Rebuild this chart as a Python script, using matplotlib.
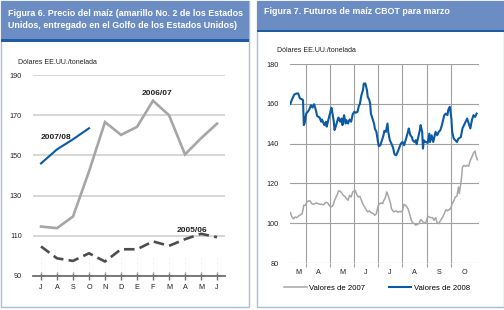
import matplotlib
matplotlib.use("Agg")
import matplotlib.pyplot as plt
from matplotlib.patches import Rectangle

# ---- Figura 6: precio del maiz (USD/t) ----
meses6 = ["J", "A", "S", "O", "N", "D", "E", "F", "M", "A", "M", "J"]
precio_0506 = [104.7, 98.8, 97.5, 101.3, 97.2, 103.3, 103.3, 107.2, 105.0, 108.3, 111.0, 109.3]
precio_0607 = [114.6, 113.8, 119.6, 142.0, 166.6, 160.2, 164.2, 177.2, 170.0, 150.5, 158.5, 165.8]
precio_0708 = [146.0, 153.0, 158.0, 163.5]

# ---- Figura 7: futuros CBOT marzo (dias desde 1 de marzo) ----
meses7 = ["M", "A", "M", "J", "J", "A", "S", "O"]
inicio_mes = [31, 61, 92, 122, 153, 184, 214]

dias_2008 = [11, 13, 16, 19, 21, 23, 26, 27, 28, 29, 31, 33, 35, 37, 39, 41, 43, 45, 48, 50,
             51, 54, 56, 57, 59, 61, 63, 64, 66, 67, 69, 71, 72, 74, 76, 77, 79, 81, 82, 84,
             86, 88, 90, 92, 94, 96, 98, 99, 101, 103, 104, 106, 108, 109, 111, 112, 113, 115, 117, 118,
             120, 122, 123, 125, 127, 129, 130, 132, 134, 135, 137, 139, 141, 143, 145, 147, 149, 151, 153, 155,
             157, 160, 161, 163, 165, 166, 168, 170, 171, 173, 175, 176, 178, 179, 180, 182, 183, 185, 187, 188,
             190, 192, 193, 195, 197, 199, 201, 203, 206, 208, 210, 211, 213, 215, 216, 218, 220, 222, 224, 227,
             229, 231, 233, 235, 237, 239, 241, 243, 245, 247]
valores_2008 = [160.0, 162.2, 164.7, 165.2, 165.2, 162.7, 162.2, 161.9, 149.3, 150.1, 155.1, 156.0, 157.2, 159.3, 158.1, 159.8, 157.2, 153.8, 153.1, 151.0,
                152.1, 149.3, 151.0, 148.5, 151.8, 154.8, 158.0, 156.0, 151.0, 146.8, 149.3, 152.1, 153.1, 151.0, 152.6, 149.3, 154.3, 150.1, 151.8, 150.1,
                152.1, 151.0, 154.8, 156.0, 155.5, 156.0, 159.3, 159.8, 164.4, 166.9, 170.2, 170.2, 166.9, 163.5, 161.9, 160.2, 155.1, 152.6, 150.1, 147.6,
                145.9, 140.8, 138.7, 139.2, 141.7, 144.2, 146.4, 145.9, 150.1, 145.9, 141.7, 140.0, 138.0, 134.6, 134.1, 135.8, 138.0, 140.0, 140.8, 139.2,
                141.7, 145.9, 147.6, 144.2, 143.3, 141.7, 140.8, 141.7, 139.7, 143.3, 146.7, 149.3, 145.9, 137.5, 141.7, 140.8, 140.8, 140.3, 145.0, 140.8,
                144.2, 140.8, 142.5, 145.9, 144.2, 145.9, 146.7, 149.3, 154.3, 155.1, 154.3, 156.9, 158.5, 152.6, 145.9, 142.5, 141.7, 140.8, 142.5, 143.3,
                147.6, 149.3, 151.0, 152.6, 150.1, 147.6, 151.8, 154.3, 153.4, 155.1]

dias_2007 = [11, 13, 15, 17, 19, 21, 23, 26, 28, 30, 32, 34, 36, 38, 40, 42, 44, 46, 49, 51,
             53, 55, 57, 59, 61, 63, 65, 67, 70, 72, 74, 76, 78, 80, 82, 84, 86, 88, 90, 93,
             95, 97, 99, 101, 103, 105, 107, 109, 111, 113, 116, 118, 120, 122, 124, 126, 128, 129, 131, 133,
             134, 136, 138, 139, 142, 145, 147, 149, 151, 153, 155, 157, 160, 162, 164, 166, 168, 170, 172, 174,
             176, 178, 180, 183, 185, 187, 189, 191, 193, 195, 197, 199, 201, 204, 206, 208, 210, 212, 214, 216,
             218, 220, 222, 224, 225, 227, 228, 229, 231, 233, 235, 237, 239, 241, 243, 245, 246, 248]
valores_2007 = [105.3, 103.1, 102.2, 103.1, 102.8, 103.5, 104.0, 104.8, 109.0, 109.0, 110.7, 111.2, 111.2, 109.8, 109.5, 109.8, 110.2, 109.8, 109.5, 109.5,
                109.2, 110.2, 110.5, 109.8, 108.5, 108.2, 109.0, 111.5, 114.0, 116.2, 116.2, 115.2, 114.0, 113.5, 112.4, 111.5, 114.0, 113.2, 115.7, 116.5,
                114.5, 113.2, 113.5, 111.5, 109.5, 108.2, 106.8, 105.7, 106.2, 105.4, 104.8, 104.0, 104.8, 108.5, 109.8, 110.2, 109.8, 111.2, 112.4, 115.7,
                114.9, 112.4, 109.8, 107.3, 105.7, 106.2, 105.5, 105.9, 105.7, 106.2, 109.5, 109.0, 107.3, 104.8, 101.8, 100.1, 99.8, 99.0, 99.5, 99.8,
                101.8, 101.2, 100.1, 100.6, 103.5, 103.1, 102.8, 102.8, 101.5, 102.8, 100.1, 99.8, 101.2, 103.1, 104.8, 106.8, 106.2, 106.8, 107.3, 109.8,
                111.2, 113.2, 113.5, 118.2, 114.9, 119.9, 123.2, 128.2, 129.1, 128.6, 129.1, 128.6, 131.6, 133.3, 135.3, 136.3, 134.1, 131.9]

AZUL = "#0b5aa3"
GRIS = "#a6a6a6"
TEXTO = "#231f20"
W, H = 504, 310

plt.rcParams["font.family"] = ["Liberation Sans", "DejaVu Sans"]
fig = plt.figure(figsize=(W / 100, H / 100), dpi=100)
fig.patch.set_facecolor("white")


def caja(x0, y0, x1, y1, **kw):
    # rectangulo en pixeles (origen arriba a la izquierda), detras de los ejes
    r = Rectangle((x0 / W, 1 - y1 / H), (x1 - x0) / W, (y1 - y0) / H,
                  transform=fig.transFigure, zorder=-5, **kw)
    fig.add_artist(r)


def eje(x0, y0, x1, y1):
    a = fig.add_axes([x0 / W, 1 - y1 / H, (x1 - x0) / W, (y1 - y0) / H])
    a.patch.set_alpha(0)
    return a


# paneles y cabeceras
caja(0.5, 0.5, 249, 307, facecolor="white", edgecolor="#a9bdd6", lw=1)
caja(257, 0.5, 503.5, 307, facecolor="white", edgecolor="#a9bdd6", lw=1)
caja(0.5, 0.5, 249, 39, facecolor="#6b8dc3", edgecolor="none")
caja(0.5, 39, 249, 42, facecolor="#1d5ba2", edgecolor="none")
caja(257, 0.5, 503.5, 30, facecolor="#6b8dc3", edgecolor="none")
caja(257, 30, 503.5, 32, facecolor="#1d5ba2", edgecolor="none")

fig.text(8 / W, 1 - 13 / H, "Figura 6. Precio del maíz (amarillo No. 2 de los Estados",
         color="white", fontsize=6.4, fontweight="bold", va="center")
fig.text(8 / W, 1 - 26 / H, "Unidos, entregado en el Golfo de los Estados Unidos)",
         color="white", fontsize=6.4, fontweight="bold", va="center")
fig.text(264 / W, 1 - 11 / H, "Figura 7. Futuros de maíz CBOT para marzo",
         color="white", fontsize=6.4, fontweight="bold", va="center")

# ---- Figura 6 ----
ax1 = eje(33, 75, 225, 276)
x6 = list(range(len(meses6)))
ax1.set_xlim(-0.5, 11.5)
ax1.set_ylim(90, 190)
ax1.set_yticks([90, 110, 130, 150, 170, 190])
ax1.grid(axis="y", color="#d3d3d3", lw=1.3)
ax1.set_axisbelow(True)
for s in ["top", "right", "left"]:
    ax1.spines[s].set_visible(False)
ax1.spines["bottom"].set_color("#6d6e71")
ax1.spines["bottom"].set_linewidth(1.3)
ax1.set_xticks(x6)
ax1.set_xticklabels(meses6)
ax1.tick_params(axis="x", direction="inout", length=6, width=1, color="#6d6e71",
                labelsize=5.2, labelcolor=TEXTO, pad=3)
ax1.tick_params(axis="y", length=0, labelsize=5.2, labelcolor=TEXTO, pad=8)
for xi in x6:
    ax1.axvline(xi, color="#e6e6e6", lw=0.6, ls=(0, (1, 2)), ymax=0.1)

ax1.plot(x6, precio_0607, color=GRIS, lw=1.9, solid_joinstyle="miter")
ax1.plot(x6, precio_0506, color="#4d4d4f", lw=1.9, ls=(0, (4, 2)))
ax1.plot(x6[:len(precio_0708)], precio_0708, color=AZUL, lw=1.5)
ax1.text(0, 158, "2007/08", fontsize=6, fontweight="bold", color=TEXTO)
ax1.text(6.3, 180, "2006/07", fontsize=6, fontweight="bold", color=TEXTO)
ax1.text(8.5, 112, "2005/06", fontsize=6, fontweight="bold", color=TEXTO)
fig.text(18 / W, 1 - 62 / H, "Dólares EE.UU./tonelada", fontsize=5, color=TEXTO, va="center")

# ---- Figura 7 ----
ax2 = eje(290, 64, 479, 263)
ax2.set_xlim(10.5, 250)
ax2.set_ylim(80, 180)
ax2.set_yticks([80, 100, 120, 140, 160, 180])
ax2.set_xticks(inicio_mes)
ax2.set_xticklabels([])
centros = [(10.5 + 31) / 2, 46, 76.5, 107, 137.5, 168.5, 199, (214 + 250) / 2]
ax2.set_xticks(centros, minor=True)
ax2.set_xticklabels(meses7, minor=True)
ax2.grid(axis="both", which="major", color="#a0a0a0", lw=0.8)
ax2.set_axisbelow(True)
for s in ["top", "right", "left", "bottom"]:
    ax2.spines[s].set_visible(False)
ax2.tick_params(axis="x", which="major", length=3, color="#a0a0a0")
ax2.tick_params(axis="x", which="minor", length=0, labelsize=5.2, labelcolor=TEXTO, pad=4)
ax2.tick_params(axis="y", length=0, labelsize=5.2, labelcolor=TEXTO, pad=8)

ax2.plot(dias_2007, valores_2007, color=GRIS, lw=1.1, label="Valores de 2007")
ax2.plot(dias_2008, valores_2008, color=AZUL, lw=1.5, label="Valores de 2008")
fig.text(277 / W, 1 - 50 / H, "Dólares EE.UU./tonelada", fontsize=5, color=TEXTO, va="center")
ax2.legend(loc="center", bbox_to_anchor=(377 / W, 1 - 288 / H), bbox_transform=fig.transFigure,
           ncol=2, frameon=False, fontsize=5.6, handlelength=2.9, columnspacing=3.0,
           handletextpad=0.3)

fig.savefig("out.png", dpi=100)
